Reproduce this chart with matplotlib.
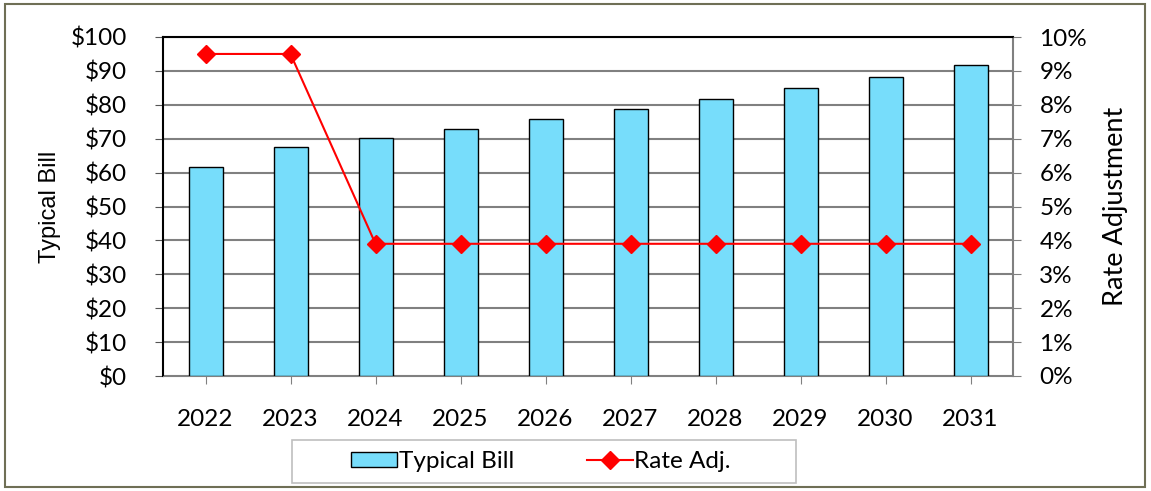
import matplotlib
matplotlib.use("Agg")
import matplotlib.pyplot as plt
from matplotlib.patches import Rectangle
from matplotlib.lines import Line2D
from matplotlib.patches import Patch
import numpy as np

years = ["2022", "2023", "2024", "2025", "2026", "2027", "2028", "2029", "2030", "2031"]
typical_bill = [61.6, 67.5, 70.1, 72.9, 75.7, 78.7, 81.7, 84.9, 88.2, 91.6]
rate_adj = [9.5, 9.5, 3.9, 3.9, 3.9, 3.9, 3.9, 3.9, 3.9, 3.9]

plt.rcParams['font.family'] = ['Lato', 'DejaVu Sans']
FS = 17.5
W, H = 1151, 491

fig = plt.figure(figsize=(W/100, H/100), dpi=100)
ax = fig.add_axes([163/W, 1-376/H, 850/W, 339/H])
x = np.arange(len(years))
ax.bar(x, typical_bill, width=0.4, color='#77DDFB', edgecolor='black', linewidth=1, zorder=3)
ax.set_xlim(-0.5, len(years) - 0.5)
ax.set_ylim(0, 100)
ax.set_yticks(np.arange(0, 101, 10))
ax.set_yticklabels([f"${v}" for v in range(0, 101, 10)], fontsize=FS)
ax.set_xticks(x)
ax.set_xticklabels(years, fontsize=FS)
ax.tick_params(axis='x', length=6, color='#808080', pad=18)
ax.tick_params(axis='y', direction='out', length=6, color='#555555', pad=20)
ax.grid(axis='y', color='#808080', linewidth=1.5, zorder=0)
ax.set_axisbelow(True)
ax.set_ylabel("Typical Bill", fontsize=17, family='Liberation Sans')
ax.yaxis.set_label_coords(-102/850, 0.5)
for s in ['left', 'top']:
    ax.spines[s].set_color('black')
    ax.spines[s].set_linewidth(1.5)
ax.spines['bottom'].set_color('#808080')
ax.spines['right'].set_color('#808080')
ax.spines['right'].set_linewidth(1.5)

ax2 = ax.twinx()
ax2.plot(x, rate_adj, color='#FF0000', linewidth=1.5, marker='D', markersize=9, zorder=5)
ax2.set_ylim(0, 10)
ax2.set_yticks(np.arange(0, 11, 1))
ax2.set_yticklabels([f"{v}%" for v in range(0, 11)], fontsize=FS)
ax2.tick_params(axis='y', direction='out', length=6, color='#808080', pad=13)
ax2.set_ylabel("Rate Adjustment", fontsize=19.5, rotation=90)
ax2.yaxis.set_label_coords(1 + 90/850, 0.5)
for s in ax2.spines.values():
    s.set_visible(False)

# legend
handles = [Patch(facecolor='#77DDFB', edgecolor='black', label='Typical Bill'),
           Line2D([0], [0], color='#FF0000', marker='D', markersize=9, linewidth=1.5, label='Rate Adj.')]
leg = fig.legend(handles=handles, loc='center', bbox_to_anchor=(541/W, 1-461.5/H),
                 ncol=2, fontsize=FS, frameon=False,
                 handlelength=1.9, handleheight=0.6, columnspacing=3.0, borderpad=0.3,
                 handletextpad=0.05, borderaxespad=0)
fig.patches.append(Rectangle((292/W, 1-483/H), 504/W, 43/H, transform=fig.transFigure,
                             fill=False, edgecolor='#BFBFBF', linewidth=1.2))

fig.patches.append(Rectangle((5/W, 4/H), 1140/W, 483/H, transform=fig.transFigure,
                             fill=False, edgecolor='#6F6F55', linewidth=1.5))

fig.savefig("out.png", dpi=100)
